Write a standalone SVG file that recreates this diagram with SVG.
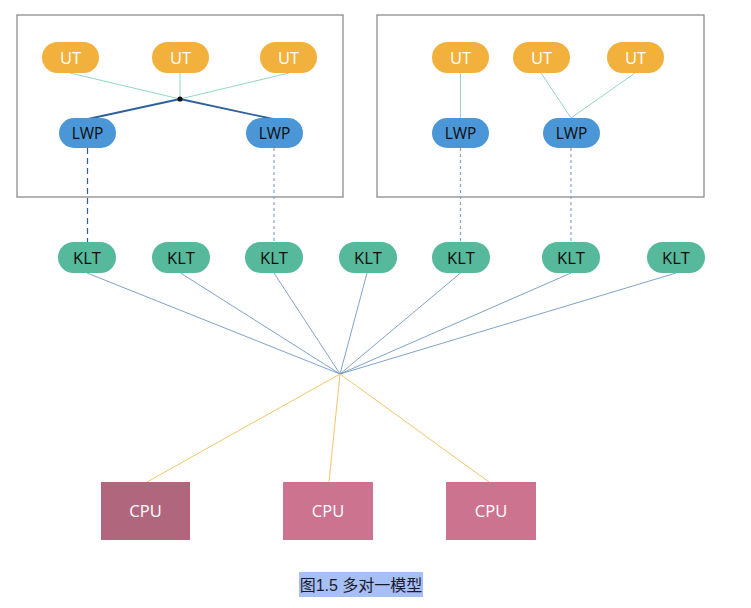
<svg xmlns="http://www.w3.org/2000/svg" width="751" height="608" viewBox="0 0 751 608">
<style>
.frame{fill:none;stroke:#8c8c8c;stroke-width:1.3}
.ut rect{fill:#f2b13c}
.lwp rect{fill:#4b96d6}
.klt rect{fill:#56b99b}
.t{font-family:"Open Sans","Liberation Sans",sans-serif;font-size:16.5px;text-anchor:middle}
.w{fill:#ffffff}
.k{fill:#0d0d0d}
.ln-ut{stroke:#93d6c5;stroke-width:1}
.ln-lwp{stroke:#2f619d;stroke-width:1.8}
.ln-d1{stroke:#2d5f98;stroke-width:1.2;stroke-dasharray:6 4}
.ln-d2{stroke:#7fa6cc;stroke-width:1.2;stroke-dasharray:3 3}
.ln-klt{stroke:#7199c2;stroke-width:0.9}
.ln-cpu{stroke:#f4c56c;stroke-width:1}
</style>
<rect x="0" y="0" width="751" height="608" fill="#ffffff"/>
<rect class="frame" x="17" y="15" width="326" height="182"/>
<rect class="frame" x="377" y="15" width="327" height="182"/>
<g id="connectors" fill="none">
<line class="ln-ut" x1="70" y1="73" x2="180" y2="99"/>
<line class="ln-ut" x1="180" y1="73" x2="180" y2="99"/>
<line class="ln-ut" x1="289" y1="73" x2="180" y2="99"/>
<line class="ln-lwp" x1="180" y1="99" x2="88" y2="119"/>
<line class="ln-lwp" x1="180" y1="99" x2="273" y2="119"/>
<line class="ln-ut" x1="460.5" y1="73" x2="460.5" y2="118"/>
<line class="ln-ut" x1="541" y1="73" x2="571" y2="118"/>
<line class="ln-ut" x1="635" y1="73" x2="571" y2="118"/>
<line class="ln-d1" x1="87.5" y1="148" x2="87.5" y2="242"/>
<line class="ln-d2" x1="274" y1="148" x2="274" y2="242"/>
<line class="ln-d2" x1="460.5" y1="148" x2="460.5" y2="242"/>
<line class="ln-d2" x1="571" y1="148" x2="571" y2="242"/>
<line class="ln-klt" x1="87" y1="273" x2="340" y2="374"/>
<line class="ln-klt" x1="180.5" y1="273" x2="340" y2="374"/>
<line class="ln-klt" x1="274" y1="273" x2="340" y2="374"/>
<line class="ln-klt" x1="367" y1="273" x2="340" y2="374"/>
<line class="ln-klt" x1="460.5" y1="273" x2="340" y2="374"/>
<line class="ln-klt" x1="571" y1="273" x2="340" y2="374"/>
<line class="ln-klt" x1="676" y1="273" x2="340" y2="374"/>
<line class="ln-cpu" x1="340" y1="374" x2="147" y2="482"/>
<line class="ln-cpu" x1="340" y1="374" x2="329" y2="482"/>
<line class="ln-cpu" x1="340" y1="374" x2="489" y2="482"/>
<circle cx="180" cy="99" r="2.6" fill="#111"/>
</g>
<g id="ut1" class="ut"><rect x="42" y="42" width="57" height="31" rx="15.5"/><text class="t w" x="70.5" y="63.5">UT</text></g>
<g id="ut2" class="ut"><rect x="152" y="42" width="57" height="31" rx="15.5"/><text class="t w" x="180.5" y="63.5">UT</text></g>
<g id="ut3" class="ut"><rect x="260" y="42" width="57" height="31" rx="15.5"/><text class="t w" x="288.5" y="63.5">UT</text></g>
<g id="ut4" class="ut"><rect x="432" y="42" width="57" height="31" rx="15.5"/><text class="t w" x="460.5" y="63.5">UT</text></g>
<g id="ut5" class="ut"><rect x="513" y="42" width="57" height="31" rx="15.5"/><text class="t w" x="541.5" y="63.5">UT</text></g>
<g id="ut6" class="ut"><rect x="607" y="42" width="57" height="31" rx="15.5"/><text class="t w" x="635.5" y="63.5">UT</text></g>
<g id="lwp1" class="lwp"><rect x="59" y="118" width="57" height="30" rx="15"/><text class="t k" x="87.5" y="139" style="font-size:15.5px">LWP</text></g>
<g id="lwp2" class="lwp"><rect x="246" y="118" width="57" height="30" rx="15"/><text class="t k" x="274.5" y="139" style="font-size:15.5px">LWP</text></g>
<g id="lwp3" class="lwp"><rect x="432" y="118" width="57" height="30" rx="15"/><text class="t k" x="460.5" y="139" style="font-size:15.5px">LWP</text></g>
<g id="lwp4" class="lwp"><rect x="543" y="118" width="57" height="30" rx="15"/><text class="t k" x="571.5" y="139" style="font-size:15.5px">LWP</text></g>
<g id="klt1" class="klt"><rect x="58" y="242" width="58" height="31" rx="15.5"/><text class="t k" x="87" y="263.5">KLT</text></g>
<g id="klt2" class="klt"><rect x="152" y="242" width="58" height="31" rx="15.5"/><text class="t k" x="181" y="263.5">KLT</text></g>
<g id="klt3" class="klt"><rect x="245" y="242" width="58" height="31" rx="15.5"/><text class="t k" x="274" y="263.5">KLT</text></g>
<g id="klt4" class="klt"><rect x="339" y="242" width="58" height="31" rx="15.5"/><text class="t k" x="368" y="263.5">KLT</text></g>
<g id="klt5" class="klt"><rect x="432" y="242" width="58" height="31" rx="15.5"/><text class="t k" x="461" y="263.5">KLT</text></g>
<g id="klt6" class="klt"><rect x="542" y="242" width="58" height="31" rx="15.5"/><text class="t k" x="571" y="263.5">KLT</text></g>
<g id="klt7" class="klt"><rect x="647" y="242" width="58" height="31" rx="15.5"/><text class="t k" x="676" y="263.5">KLT</text></g>
<g id="cpu1"><rect x="101" y="482" width="89" height="58" fill="#b0677e"/><text class="t w" x="145.5" y="517">CPU</text></g>
<g id="cpu2"><rect x="283" y="482" width="90" height="58" fill="#cc7390"/><text class="t w" x="328" y="517">CPU</text></g>
<g id="cpu3"><rect x="446" y="482" width="90" height="58" fill="#cc7390"/><text class="t w" x="491" y="517">CPU</text></g>
<g id="caption"><rect x="299" y="572" width="124" height="25" fill="#a6bff4"/><text x="361" y="591" text-anchor="middle" font-family="'Liberation Sans','Noto Sans CJK SC',sans-serif" font-size="16" fill="#1a1a2a">图1.5 多对一模型</text></g>
</svg>
